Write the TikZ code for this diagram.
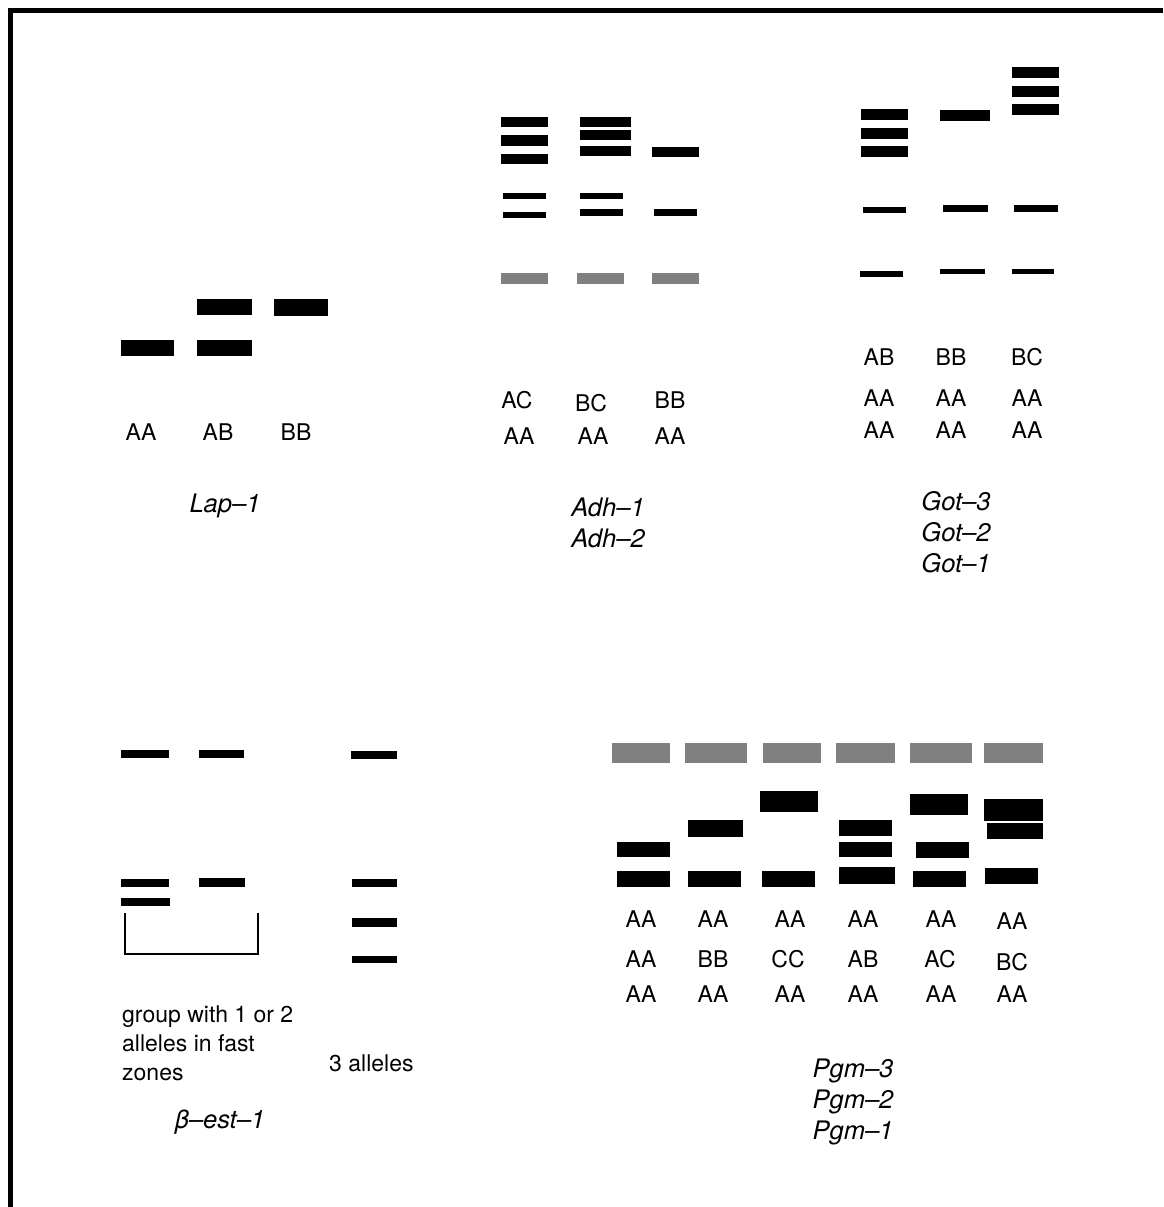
\documentclass[tikz,border=0pt]{standalone}
\usepackage{fontspec}
\setmainfont{TeX Gyre Heros}
\begin{document}
\begin{tikzpicture}[x=1pt,y=-1pt,
  band/.style={fill=black},
  faint/.style={fill=black!50},
  geno/.style={font=\fontsize{23}{27}\selectfont, inner sep=0pt},
  locus/.style={font=\fontsize{25.5}{31}\selectfont\itshape, inner sep=0pt, align=center},
  note/.style={font=\fontsize{23}{29}\selectfont, inner sep=0pt, align=left}]
\useasboundingbox (0,0) rectangle (1163,1207);
\fill[white] (0,0) rectangle (1163,1207);
% frame
\fill[black] (8,8) rectangle (1163,13);
\fill[black] (8,8) rectangle (13,1207);

% ---------- Lap-1 ----------
\fill[band] (121,340) rectangle (174,356);
\fill[band] (197,299) rectangle (252,315);
\fill[band] (197,340) rectangle (252,356);
\fill[band] (274,299) rectangle (328,316);
\node[geno] (lapa) at (141,432) {AA};
\node[geno] (lapb) at (218,432) {AB};
\node[geno] (lapc) at (296,432) {BB};
\node[locus] (lap) at (225,506) {Lap--1};

% ---------- Adh ----------
\fill[band] (501,117) rectangle (548,127);
\fill[band] (501,135) rectangle (548,146);
\fill[band] (501,154) rectangle (548,164);
\fill[band] (503,193) rectangle (546,199);
\fill[band] (503,212) rectangle (546,218);
\fill[faint] (501,273) rectangle (548,284);
\fill[band] (580,117) rectangle (631,127);
\fill[band] (580,130) rectangle (631,140);
\fill[band] (580,146) rectangle (631,156);
\fill[band] (580,193) rectangle (623,199);
\fill[band] (580,209) rectangle (623,216);
\fill[faint] (577,273) rectangle (624,284);
\fill[band] (652,147) rectangle (699,157);
\fill[band] (654,209) rectangle (697,216);
\fill[faint] (652,273) rectangle (699,284);
\node[geno] (adha1) at (517,400) {AC};
\node[geno] (adhb1) at (591,403) {BC};
\node[geno] (adhc1) at (670,400) {BB};
\node[geno] (adha2) at (519,436) {AA};
\node[geno] (adhb2) at (593,436) {AA};
\node[geno] (adhc2) at (670,436) {AA};
\node[locus] (adh) at (608,523) {Adh--1\\Adh--2};

% ---------- Got ----------
\fill[band] (861,109) rectangle (908,120);
\fill[band] (861,128) rectangle (908,139);
\fill[band] (861,146) rectangle (908,157);
\fill[band] (863,207) rectangle (906,213);
\fill[band] (860,271) rectangle (903,277);
\fill[band] (940,110) rectangle (990,121);
\fill[band] (943,205) rectangle (988,212);
\fill[band] (940,269) rectangle (985,274);
\fill[band] (1012,67) rectangle (1059,78);
\fill[band] (1012,86) rectangle (1059,97);
\fill[band] (1012,104) rectangle (1059,115);
\fill[band] (1014,205) rectangle (1058,212);
\fill[band] (1012,269) rectangle (1054,274);
\node[geno] (gota1) at (879,357) {AB};
\node[geno] (gotb1) at (951,357) {BB};
\node[geno] (gotc1) at (1027,357) {BC};
\node[geno] (gota2) at (879,398) {AA};
\node[geno] (gotb2) at (951,398) {AA};
\node[geno] (gotc2) at (1027,398) {AA};
\node[geno] (gota3) at (879,430) {AA};
\node[geno] (gotb3) at (951,430) {AA};
\node[geno] (gotc3) at (1027,430) {AA};
\node[locus] (got) at (956,532) {Got--3\\Got--2\\Got--1};

% ---------- beta-est-1 ----------
\fill[band] (121,750) rectangle (169,758);
\fill[band] (199,750) rectangle (244,758);
\fill[band] (351,751) rectangle (397,759);
\fill[band] (121,879) rectangle (169,887);
\fill[band] (121,898) rectangle (170,906);
\fill[band] (199,878) rectangle (245,887);
\fill[band] (352,879) rectangle (397,887);
\fill[band] (352,918) rectangle (397,927);
\fill[band] (352,956) rectangle (397,963);
\coordinate (brl) at (125,913);
\coordinate (brr) at (258,913);
\draw[line width=2pt] (brl) |- (191.5,954) -| (brr);
\node[note, anchor=west] (grp) at (122,1043) {group with 1 or 2\\alleles in fast\\zones};
\node[note, anchor=west] (three) at (329,1063) {3 alleles};
\node[locus] (est) at (220,1122) {β--est--1};

% ---------- Pgm ----------
\fill[faint] (612,743) rectangle (670,763);
\fill[faint] (685,743) rectangle (747,763);
\fill[faint] (763,743) rectangle (821,763);
\fill[faint] (836,743) rectangle (895,763);
\fill[faint] (910,743) rectangle (972,763);
\fill[faint] (984,743) rectangle (1043,763);
\fill[band] (617,842) rectangle (670,857);
\fill[band] (617,871) rectangle (670,887);
\fill[band] (688,820) rectangle (743,837);
\fill[band] (688,871) rectangle (741,887);
\fill[band] (760,791) rectangle (818,812);
\fill[band] (762,871) rectangle (815,887);
\fill[band] (839,820) rectangle (892,836);
\fill[band] (839,842) rectangle (892,857);
\fill[band] (839,867) rectangle (895,884);
\fill[band] (910,794) rectangle (968,815);
\fill[band] (916,842) rectangle (969,858);
\fill[band] (913,871) rectangle (966,887);
\fill[band] (984,799) rectangle (1043,821);
\fill[band] (987,823) rectangle (1043,839);
\fill[band] (985,868) rectangle (1038,884);
\node[geno] (pa1) at (641,919) {AA};
\node[geno] (pb1) at (713,919) {AA};
\node[geno] (pc1) at (790,919) {AA};
\node[geno] (pd1) at (863,919) {AA};
\node[geno] (pe1) at (941,919) {AA};
\node[geno] (pf1) at (1012,921) {AA};
\node[geno] (pa2) at (641,959) {AA};
\node[geno] (pb2) at (713,959) {BB};
\node[geno] (pc2) at (788,959) {CC};
\node[geno] (pd2) at (863,959) {AB};
\node[geno] (pe2) at (940,959) {AC};
\node[geno] (pf2) at (1012,962) {BC};
\node[geno] (pa3) at (641,994) {AA};
\node[geno] (pb3) at (713,994) {AA};
\node[geno] (pc3) at (790,994) {AA};
\node[geno] (pd3) at (863,994) {AA};
\node[geno] (pe3) at (941,994) {AA};
\node[geno] (pf3) at (1012,994) {AA};
\node[locus] (pgm) at (853,1102) {Pgm--3\\Pgm--2\\Pgm--1};
\end{tikzpicture}
\end{document}
